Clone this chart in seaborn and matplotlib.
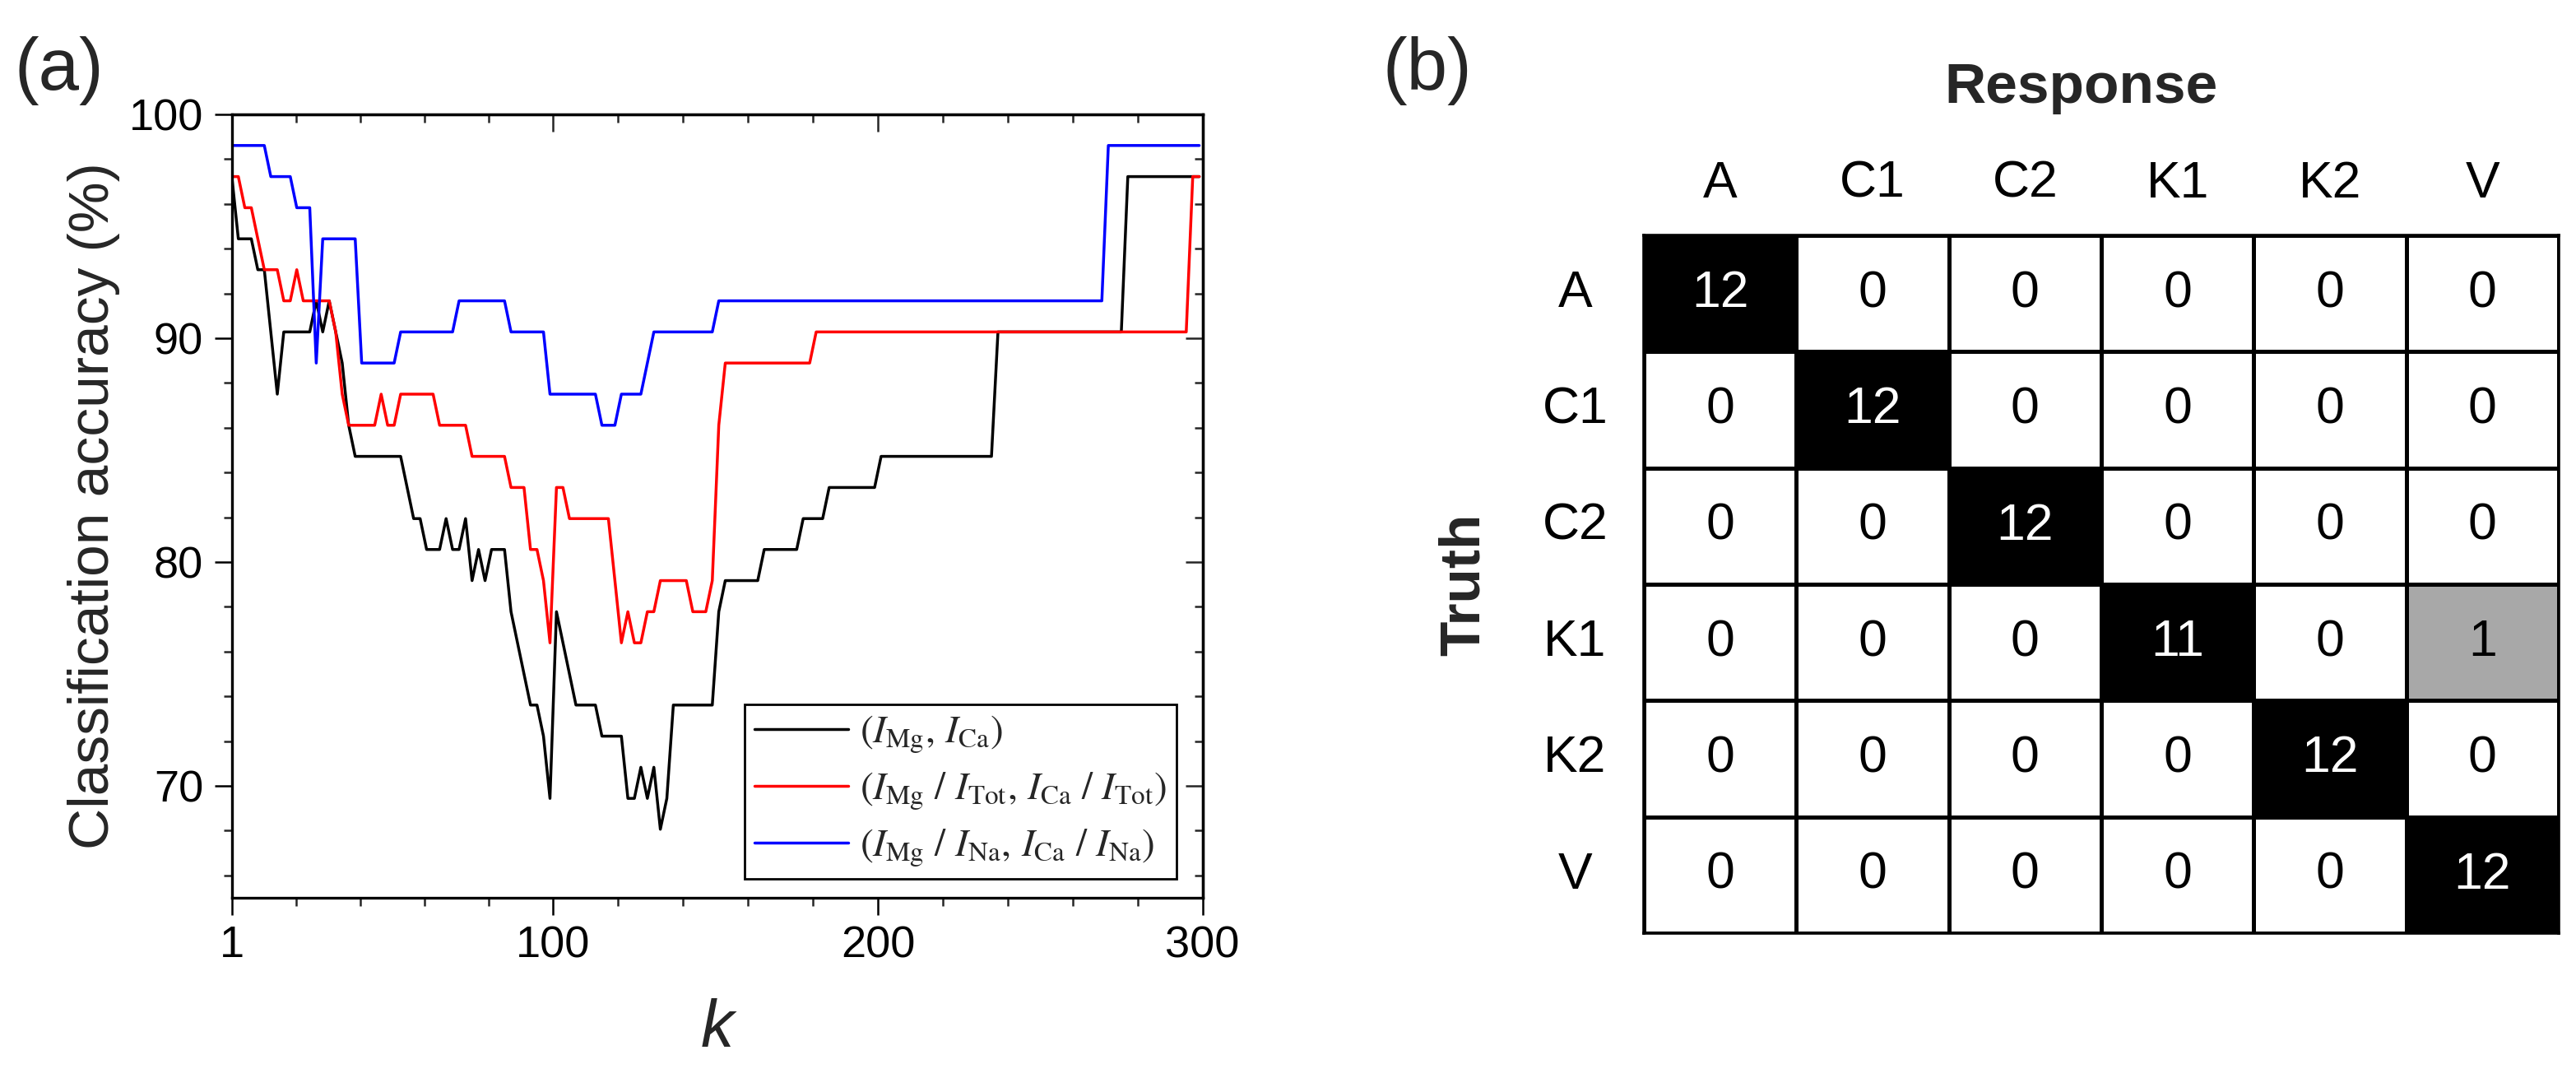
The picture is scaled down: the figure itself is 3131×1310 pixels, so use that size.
import numpy as np
import pandas as pd
import matplotlib
matplotlib.use("Agg")
import matplotlib.pyplot as plt
from matplotlib.colors import ListedColormap, BoundaryNorm
from matplotlib.ticker import FixedLocator
import seaborn as sns

# ---- panel (a): accuracy vs k (vertices of the step curves) ----
black_k = [1, 3, 7, 9, 11, 15, 17, 25, 27, 29, 31, 33, 35, 37, 39, 53, 55, 57, 59, 61,
           65, 67, 69, 71, 73, 75, 77, 79, 81, 85, 87, 89, 91, 93, 95, 97, 99, 101, 103, 105,
           107, 113, 115, 121, 123, 125, 127, 129, 131, 133, 135, 137, 149, 151, 153, 163, 165, 175, 177, 183,
           185, 199, 201, 235, 237, 275, 277, 299]
black_acc = [97.22, 94.44, 94.44, 93.06, 93.06, 87.5, 90.28, 90.28, 91.67, 90.28,
             91.67, 90.28, 88.89, 86.11, 84.72, 84.72, 83.33, 81.94, 81.94, 80.56,
             80.56, 81.94, 80.56, 80.56, 81.94, 79.17, 80.56, 79.17, 80.56, 80.56,
             77.78, 76.39, 75.0, 73.61, 73.61, 72.22, 69.44, 77.78, 76.39, 75.0,
             73.61, 73.61, 72.22, 72.22, 69.44, 69.44, 70.83, 69.44, 70.83, 68.06,
             69.44, 73.61, 73.61, 77.78, 79.17, 79.17, 80.56, 80.56, 81.94, 81.94,
             83.33, 83.33, 84.72, 84.72, 90.28, 90.28, 97.22, 97.22]

red_k = [1, 3, 5, 7, 9, 11, 15, 17, 19, 21, 23, 31, 33, 35, 37, 45, 47, 49, 51, 53,
         63, 65, 73, 75, 85, 87, 91, 93, 95, 97, 99, 101, 103, 105, 117, 119, 121, 123, 125, 127,
         129, 131, 133, 141, 143, 147, 149, 151, 153, 179, 181, 295, 297, 299]
red_acc = [97.22, 97.22, 95.83, 95.83, 94.44, 93.06, 93.06, 91.67, 91.67, 93.06,
           91.67, 91.67, 90.28, 87.5, 86.11, 86.11, 87.5, 86.11, 86.11, 87.5,
           87.5, 86.11, 86.11, 84.72, 84.72, 83.33, 83.33, 80.56, 80.56, 79.17,
           76.39, 83.33, 83.33, 81.94, 81.94, 79.17, 76.39, 77.78, 76.39, 76.39,
           77.78, 77.78, 79.17, 79.17, 77.78, 77.78, 79.17, 86.11, 88.89, 88.89,
           90.28, 90.28, 97.22, 97.22]

blue_k = [1, 11, 13, 19, 21, 25, 27, 29, 39, 41, 51, 53, 69, 71, 85, 87, 97, 99, 113, 115,
          119, 121, 127, 131, 149, 151, 269, 271, 299]
blue_acc = [98.61, 98.61, 97.22, 97.22, 95.83, 95.83, 88.89, 94.44, 94.44, 88.89,
            88.89, 90.28, 90.28, 91.67, 91.67, 90.28, 90.28, 87.5, 87.5, 86.11,
            86.11, 87.5, 87.5, 90.28, 90.28, 91.67, 91.67, 98.61, 98.61]

labels = [r"$(I_{\mathrm{Mg}},\, I_{\mathrm{Ca}})$",
          r"$(I_{\mathrm{Mg}}\ /\ I_{\mathrm{Tot}},\, I_{\mathrm{Ca}}\ /\ I_{\mathrm{Tot}})$",
          r"$(I_{\mathrm{Mg}}\ /\ I_{\mathrm{Na}},\, I_{\mathrm{Ca}}\ /\ I_{\mathrm{Na}})$"]
colors = ["black", "red", "blue"]

x_major = [1, 100, 200, 300]
y_major = [70, 80, 90, 100]

# ---- panel (b): confusion matrix ----
classes = ["A", "C1", "C2", "K1", "K2", "V"]
conf = [[12, 0, 0, 0, 0, 0],
        [0, 12, 0, 0, 0, 0],
        [0, 0, 12, 0, 0, 0],
        [0, 0, 0, 11, 0, 1],
        [0, 0, 0, 0, 12, 0],
        [0, 0, 0, 0, 0, 12]]

sns.set_theme(style="ticks")
plt.rcParams['font.family'] = ['Liberation Sans', 'DejaVu Sans']
plt.rcParams['mathtext.fontset'] = 'stix'

fig = plt.figure(figsize=(31.31, 13.10), dpi=100)
ax = fig.add_axes([0.0900, 0.1672, 0.3768, 0.7267])
axb = fig.add_axes([0.6381, 0.1344, 0.3552, 0.6473])

frames = []
for ks, accs, lab in zip([black_k, red_k, blue_k], [black_acc, red_acc, blue_acc], labels):
    frames.append(pd.DataFrame({"k": ks, "acc": accs, "feature": lab}))
df = pd.concat(frames, ignore_index=True)

sns.lineplot(data=df, x="k", y="acc", hue="feature", palette=colors, estimator=None,
             linewidth=2.5, ax=ax)

ax.set_xlim(1, 300)
ax.set_ylim(65, 100)
ax.set_xticks(x_major)
ax.set_yticks(y_major)
x_minor = list(np.linspace(1, 100, 6)[1:-1]) + [120, 140, 160, 180, 220, 240, 260, 280]
y_minor = list(range(66, 100, 2))
ax.xaxis.set_minor_locator(FixedLocator(x_minor))
ax.yaxis.set_minor_locator(FixedLocator(y_minor))
ax.tick_params(which='major', direction='out', length=15, width=1.8, labelsize=39, colors='black')
ax.tick_params(axis='x', which='major', pad=9)
ax.tick_params(axis='y', which='major', pad=10)
ax.tick_params(which='minor', direction='out', length=7.5, width=1.8)
for s in ax.spines.values():
    s.set_linewidth(2.4)
    s.set_color('black')
    s.set_visible(True)

top = ax.secondary_xaxis('top')
top.set_xticks(x_major)
top.xaxis.set_minor_locator(FixedLocator(x_minor))
top.tick_params(which='major', direction='in', length=15, width=1.8, labeltop=False)
top.tick_params(which='minor', direction='in', length=7.5, width=1.8)
top.spines['top'].set_linewidth(2.4)
right = ax.secondary_yaxis('right')
right.set_yticks(y_major)
right.yaxis.set_minor_locator(FixedLocator(y_minor))
right.tick_params(which='major', direction='in', length=15, width=1.8, labelright=False)
right.tick_params(which='minor', direction='in', length=7.5, width=1.8)
right.spines['right'].set_linewidth(2.4)

ax.set_ylabel("Classification accuracy (%)", fontsize=50)
ax.yaxis.set_label_coords(-0.115, 0.5)
ax.set_xlabel("k", fontsize=58, style='italic')
ax.xaxis.set_label_coords(0.5, -0.128)

leg = ax.legend(loc='lower right', bbox_to_anchor=(0.973, 0.024), fontsize=34,
                frameon=True, fancybox=False, edgecolor='black', framealpha=1,
                handlelength=2.4, handletextpad=0.3, labelspacing=0.4,
                borderpad=0.25, borderaxespad=0)
leg.get_frame().set_linewidth(2.0)
for line in leg.get_lines():
    line.set_linewidth(2.5)

# ---- heatmap ----
cm = pd.DataFrame(conf, index=classes, columns=classes)
cmap = ListedColormap(['white', '#a8a8a8', 'black'])
norm = BoundaryNorm([-0.5, 0.5, 6, 13], 3)
sns.heatmap(cm, ax=axb, annot=True, fmt='d', cmap=cmap, norm=norm, cbar=False,
            linewidths=2.2, linecolor='black', annot_kws={'size': 45})
for txt, val in zip(axb.texts, np.array(conf).flatten()):
    txt.set_color('white' if val >= 6 else 'black')
for s in axb.spines.values():
    s.set_visible(True)
    s.set_linewidth(2.6)
    s.set_color('black')

axb.xaxis.tick_top()
axb.tick_params(axis='x', length=0, pad=24, labelsize=45, colors='black')
axb.tick_params(axis='y', length=0, pad=60, labelsize=45, colors='black')
for t in axb.get_yticklabels():
    t.set_rotation(0)
    t.set_ha('center')
axb.xaxis.set_label_position('top')
axb.set_xlabel("Response", fontsize=50, fontweight='bold', va='center')
axb.xaxis.set_label_coords(0.478, 1.211)
axb.set_ylabel("Truth", fontsize=50, fontweight='bold', va='center')
axb.yaxis.set_label_coords(-0.196, 0.5)

fig.text(0.023, 0.934, "(a)", fontsize=64, ha='center', va='center')
fig.text(0.554, 0.934, "(b)", fontsize=64, ha='center', va='center')

fig.savefig("out.png", dpi=100)
